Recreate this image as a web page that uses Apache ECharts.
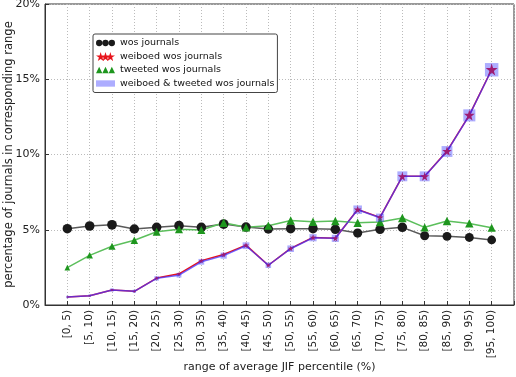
<!DOCTYPE html>
<html>
<head>
<meta charset="utf-8">
<script src="https://cdn.jsdelivr.net/npm/echarts@6/dist/echarts.min.js"></script>
<style>
  html, body { margin: 0; padding: 0; background: #fff; }
  #box { width: 516px; height: 377px; }
</style>
</head>
<body>
<div id="box"></div>
<script>
var cats = ['[0, 5)', '[5, 10)', '[10, 15)', '[15, 20)', '[20, 25)', '[25, 30)', '[30, 35)', '[35, 40)', '[40, 45)', '[45, 50)',
    '[50, 55)', '[55, 60)', '[60, 65)', '[65, 70)', '[70, 75)', '[75, 80)', '[80, 85)', '[85, 90)', '[90, 95)', '[95, 100)'];
var wos = [5.07, 5.25, 5.33, 5.05, 5.16, 5.27, 5.16, 5.38, 5.18, 5.05, 5.07, 5.07, 5.03, 4.78, 5.03, 5.16, 4.6, 4.56, 4.49, 4.32];
var weiboed = [0.53, 0.62, 1.0, 0.91, 1.79, 2.07, 2.95, 3.36, 3.98, 2.64, 3.76, 4.49, 4.43, 6.35, 5.82, 8.55, 8.55, 10.23, 12.62, 15.65];
var tweeted = [2.48, 3.3, 3.9, 4.3, 4.87, 5.03, 4.98, 5.47, 5.16, 5.27, 5.62, 5.53, 5.58, 5.47, 5.51, 5.78, 5.16, 5.58, 5.42, 5.13];
var both = [0.53, 0.62, 1.0, 0.91, 1.77, 1.98, 2.87, 3.28, 3.94, 2.64, 3.74, 4.47, 4.43, 6.33, 5.8, 8.55, 8.55, 10.2, 12.6, 15.63];
var yTicks = ['0%', '5%', '10%', '15%', '20%'];

var font = 'DejaVu Sans';
var star = 'path://M50,0L61,35L98,35L68,57L79,91L50,70L21,91L32,57L2,35L39,35Z';

function pts(vals) {
    var list = [];
    for (var i = 0; i < vals.length; i++) {
        list.push([i, vals[i]]);
    }
    return list;
}

// marker size grows with the value (sqrt)
function sizer(k) {
    return function (v) { return k * Math.sqrt(v[1]); };
}

// legend icons: three markers side by side, like matplotlib
var circles3 = 'path://M0,5A5,5 0 1,1 10,5A5,5 0 1,1 0,5Z M10,5A5,5 0 1,1 20,5A5,5 0 1,1 10,5Z M20,5A5,5 0 1,1 30,5A5,5 0 1,1 20,5Z';
var tris3 = 'path://M0,10L5,0L10,10Z M10,10L15,0L20,10Z M20,10L25,0L30,10Z';
var stars3 = 'path://M10,0L12.2,7L19.6,7L13.6,11.4L15.8,18.2L10,14L4.2,18.2L6.4,11.4L0.4,7L7.8,7Z M20,0L22.2,7L29.6,7L23.6,11.4L25.8,18.2L20,14L14.2,18.2L16.4,11.4L10.4,7L17.8,7Z M30,0L32.2,7L39.6,7L33.6,11.4L35.8,18.2L30,14L24.2,18.2L26.4,11.4L20.4,7L27.8,7Z';
var rect1 = 'path://M0,0L30,0L30,10L0,10Z';

var myChart = echarts.init(document.getElementById('box'));
var option = {
    backgroundColor: '#fff',
    animation: false,
    textStyle: { fontFamily: font },
    grid: {
        left: 45, right: 2, top: 4, bottom: 72,
        outerBoundsMode: 'none',
        containLabel: false,
        show: true, borderColor: '#333', borderWidth: 1
    },
    legend: {
        orient: 'vertical',
        left: 93, top: 34,
        padding: [4, 3, 4, 3],
        itemGap: 3.5,
        itemWidth: 19,
        itemHeight: 9,
        borderColor: '#444',
        borderWidth: 1,
        borderRadius: 2,
        backgroundColor: '#fff',
        textStyle: { fontSize: 9.5, color: '#111', fontFamily: font },
        data: [
            { name: 'wos journals', icon: circles3 },
            { name: 'weiboed wos journals', icon: stars3 },
            { name: 'tweeted wos journals', icon: tris3 },
            { name: 'weiboed & tweeted wos journals', icon: rect1 }
        ]
    },
    xAxis: {
        type: 'value',
        min: -1, max: 20, interval: 1,
        name: 'range of average JIF percentile (%)',
        nameLocation: 'middle',
        nameGap: 57,
        nameMoveOverlap: false,
        nameTextStyle: { fontSize: 11, color: '#222' },
        axisLine: { show: true, onZero: false, lineStyle: { color: '#333' } },
        axisTick: { inside: true, length: 4, lineStyle: { color: '#333' } },
        axisLabel: {
            rotate: 90, fontSize: 10.5, color: '#222', margin: 5,
            showMinLabel: true, showMaxLabel: true,
            formatter: function (v) {
                var i = Math.round(v);
                return (i >= 0 && i < cats.length) ? cats[i] : '';
            }
        },
        splitLine: { show: true, lineStyle: { color: '#bbb', type: [1, 2], width: 1 } }
    },
    yAxis: {
        type: 'value',
        min: 0, max: 20, interval: 5,
        name: 'percentage of journals in corresponding range',
        nameLocation: 'middle',
        nameGap: 30,
        nameMoveOverlap: false,
        nameTextStyle: { fontSize: 11.5, color: '#222' },
        axisLine: { show: true, onZero: false, lineStyle: { color: '#333' } },
        axisTick: { inside: true, length: 4, lineStyle: { color: '#333' } },
        axisLabel: {
            fontSize: 11, color: '#222', margin: 5,
            formatter: function (v) { return yTicks[Math.round(v / 5)]; }
        },
        splitLine: { show: true, lineStyle: { color: '#bbb', type: [1, 2], width: 1 } }
    },
    series: [{
        name: 'wos journals',
        type: 'line',
        data: pts(wos),
        symbol: 'circle',
        symbolSize: sizer(4.2),
        itemStyle: { color: '#1a1a1a' },
        lineStyle: { color: '#5a5a5a', width: 1.5 }
    }, {
        name: 'weiboed wos journals',
        type: 'line',
        data: pts(weiboed),
        symbol: star,
        symbolSize: sizer(3),
        itemStyle: { color: '#e8141c' },
        lineStyle: { color: '#e8141c', width: 1.5 }
    }, {
        name: 'tweeted wos journals',
        type: 'line',
        data: pts(tweeted),
        symbol: 'triangle',
        symbolSize: sizer(3.6),
        itemStyle: { color: '#1e961e' },
        lineStyle: { color: '#5cbf5c', width: 1.5 }
    }, {
        name: 'weiboed & tweeted wos journals',
        type: 'line',
        data: pts(both),
        symbol: 'rect',
        symbolSize: sizer(3.4),
        itemStyle: { color: 'rgba(40,40,255,0.38)' },
        lineStyle: { color: 'rgba(70,50,255,0.75)', width: 1.5 }
    }]
};
myChart.setOption(option);
</script>
</body>
</html>
